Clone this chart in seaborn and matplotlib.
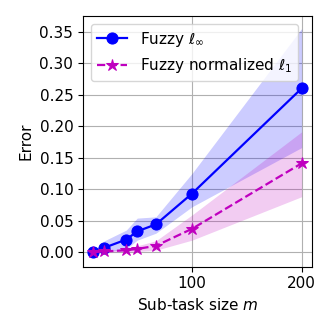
import matplotlib
matplotlib.use("Agg")
import matplotlib.pyplot as plt
import pandas as pd
import seaborn as sns

m = [10, 20, 40, 50, 67, 100, 200]

linf_mean = [0.0, 0.007, 0.020, 0.033, 0.044, 0.093, 0.260]
linf_low = [0.0, 0.0, 0.005, 0.019, 0.030, 0.072, 0.166]
linf_high = [0.0, 0.018, 0.035, 0.054, 0.056, 0.125, 0.355]

l1_mean = [0.0, 0.001, 0.003, 0.005, 0.010, 0.037, 0.141]
l1_low = [0.0, 0.0, 0.0, 0.001, 0.003, 0.019, 0.088]
l1_high = [0.0, 0.002, 0.006, 0.010, 0.018, 0.059, 0.191]

df = pd.DataFrame({"m": m, "linf": linf_mean, "l1": l1_mean})

plt.rcParams["font.size"] = 11

fig = plt.figure(figsize=(3.32, 3.32), dpi=100)
ax = fig.add_axes([0.25, 0.197, 0.69, 0.755])

sns.lineplot(data=df, x="m", y="linf", ax=ax, color="b", marker="o",
             markersize=8, markeredgecolor="b", linewidth=1.6,
             label=r"Fuzzy $\ell_\infty$")
ax.fill_between(m, linf_low, linf_high, color="b", alpha=0.2, linewidth=0)

sns.lineplot(data=df, x="m", y="l1", ax=ax, color="m", marker="*",
             markersize=9, markeredgecolor="m", linestyle="--", linewidth=1.6,
             label=r"Fuzzy normalized $\ell_1$")
ax.fill_between(m, l1_low, l1_high, color="m", alpha=0.2, linewidth=0)

ax.set_xticks([100, 200])
ax.set_yticks([0.0, 0.05, 0.10, 0.15, 0.20, 0.25, 0.30, 0.35])
ax.set_ylim(-0.023, 0.375)
ax.grid(True)
ax.set_axisbelow(True)
ax.set_xlabel(r"Sub-task size $m$")
ax.set_ylabel("Error")
ax.legend(loc="upper left")

fig.savefig("out.png", dpi=100)
